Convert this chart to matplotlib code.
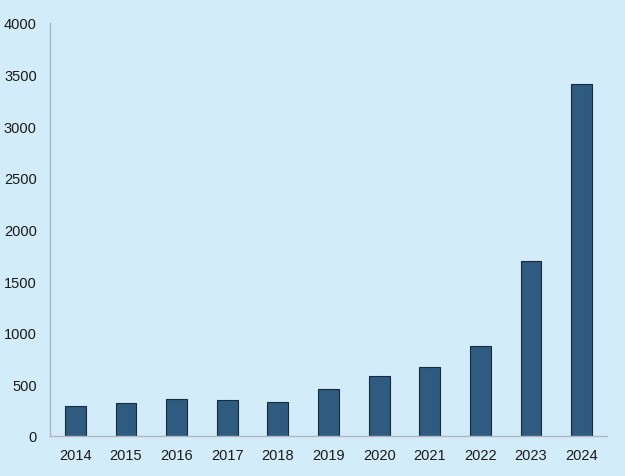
import matplotlib
matplotlib.use("Agg")
import matplotlib.pyplot as plt

years = ["2014", "2015", "2016", "2017", "2018", "2019", "2020", "2021", "2022", "2023", "2024"]
values = [288, 320, 355, 346, 326, 455, 581, 668, 872, 1695, 3409]
yticks = [0, 500, 1000, 1500, 2000, 2500, 3000, 3500, 4000]

plt.rcParams['font.family'] = ['Liberation Sans', 'DejaVu Sans']
bg = "#D3ECF9"
fig = plt.figure(figsize=(6.25, 4.77), dpi=100, facecolor=bg)
ax = fig.add_axes([0.08, 0.0839, 0.8912, 0.8658], facecolor=bg)
x = list(range(len(years)))
ax.bar(x, values, width=0.41, color="#2E5B7F", edgecolor="#1A2A3A", linewidth=0.8)
ax.set_xlim(-0.5, len(years) - 0.5)
ax.set_ylim(0, 4000)
ax.set_yticks(yticks)
ax.set_yticklabels([str(t) for t in yticks])
ax.set_xticks(x)
ax.set_xticklabels(years)
ax.tick_params(length=0, labelsize=10.5, colors="#1a1a1a", pad=9)
ax.tick_params(axis='y', pad=9.5)
for s in ["top", "right"]:
    ax.spines[s].set_visible(False)
for s in ["left", "bottom"]:
    ax.spines[s].set_color("#B0B8BE")
    ax.spines[s].set_linewidth(1)
fig.savefig("out.png", dpi=100, facecolor=bg)
